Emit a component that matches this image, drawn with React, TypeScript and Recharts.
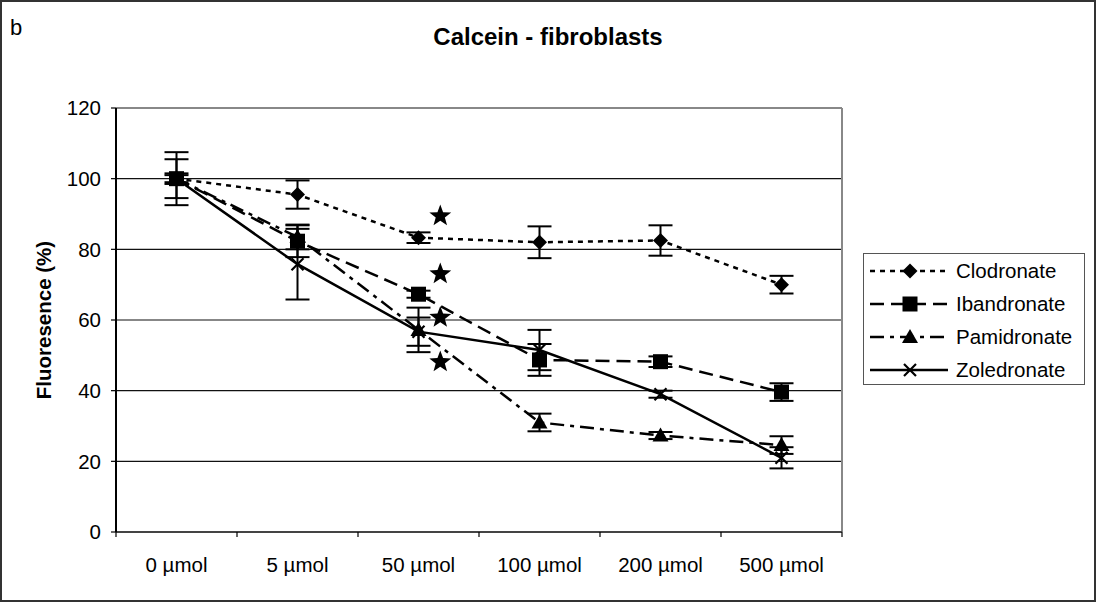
import React from 'react';
import {
  ComposedChart, Line, Scatter, XAxis, YAxis, CartesianGrid,
  ErrorBar, ReferenceLine, Legend,
} from 'recharts';

const doses = ['0 µmol', '5 µmol', '50 µmol', '100 µmol', '200 µmol', '500 µmol'];

const clodronate = [100, 95.5, 83.3, 82, 82.5, 70];
const clodronateErr = [7.5, 4, 1.5, 4.5, 4.3, 2.5];
const ibandronate = [100, 82.3, 67.3, 48.7, 48.2, 39.6];
const ibandronateErr = [5.5, 4.5, 1, 4.5, 1.5, 2.5];
const pamidronate = [100, 83.5, 57.2, 31, 27.3, 24.6];
const pamidronateErr = [1.5, 3.5, 6.3, 2.5, 1, 2.5];
const zoledronate = [100, 75.8, 56.7, 51.5, 39, 21];
const zoledronateErr = [1, 10, 4, 5.7, 1, 3];

// significance stars, placed just right of the 50 µmol column
const starX = [2.68, 2.68, 2.68, 2.68];
const starY = [89.7, 73.3, 61, 48.4];

const yTicks = [0, 20, 40, 60, 80, 100, 120];
const bandTicks = [0, 1, 2, 3, 4, 5, 6];

const data = doses.map((dose, i) => ({
  dose,
  clo: clodronate[i], cloErr: clodronateErr[i],
  iba: ibandronate[i], ibaErr: ibandronateErr[i],
  pam: pamidronate[i], pamErr: pamidronateErr[i],
  zol: zoledronate[i], zolErr: zoledronateErr[i],
}));

const stars = starX.map((x, i) => ({ x, y: starY[i] }));

const FONT = '"Liberation Sans", Arial, sans-serif';

type Kind = 'diamond' | 'square' | 'triangle' | 'cross';

const series: { key: string; name: string; dash?: string; kind: Kind }[] = [
  { key: 'clo', name: 'Clodronate', dash: '5 5', kind: 'diamond' },
  { key: 'iba', name: 'Ibandronate', dash: '14 7', kind: 'square' },
  { key: 'pam', name: 'Pamidronate', dash: '14 6 4 6', kind: 'triangle' },
  { key: 'zol', name: 'Zoledronate', kind: 'cross' },
];

function Marker({ kind, cx, cy }: { kind: Kind; cx: number; cy: number }) {
  if (cx == null || cy == null) return null;
  if (kind === 'diamond') {
    const r = 7.5;
    return <path d={`M${cx},${cy - r}L${cx + r},${cy}L${cx},${cy + r}L${cx - r},${cy}Z`} fill="#000" />;
  }
  if (kind === 'square') {
    return <rect x={cx - 7.5} y={cy - 7.5} width={15} height={15} fill="#000" />;
  }
  if (kind === 'triangle') {
    return <path d={`M${cx},${cy - 8}L${cx + 8},${cy + 6}L${cx - 8},${cy + 6}Z`} fill="#000" />;
  }
  return (
    <path
      d={`M${cx - 6},${cy - 6}L${cx + 6},${cy + 6}M${cx + 6},${cy - 6}L${cx - 6},${cy + 6}`}
      stroke="#000" strokeWidth={2.2} fill="none"
    />
  );
}

const makeDot = (kind: Kind) => (p: any) => (
  <Marker key={`${kind}-${p.index}`} kind={kind} cx={p.cx} cy={p.cy} />
);

function Star(p: any) {
  const { cx, cy } = p;
  const outer = 11.5, inner = 4.8;
  const pts = [];
  for (let i = 0; i < 10; i++) {
    const r = i % 2 === 0 ? outer : inner;
    const a = -Math.PI / 2 + (i * Math.PI) / 5;
    pts.push(`${cx + r * Math.cos(a)},${cy + 1 + r * Math.sin(a)}`);
  }
  return <polygon points={pts.join(' ')} fill="#000" />;
}

function LegendBox() {
  return (
    <div style={{ border: '1.5px solid #555', background: '#fff', width: 222, height: 132, boxSizing: 'border-box', fontFamily: FONT }}>
      {series.map((s) => (
        <div key={s.key} style={{ display: 'flex', alignItems: 'center', height: 33 }}>
          <svg width={92} height={20} style={{ display: 'block' }}>
            <line x1={6} y1={10} x2={84} y2={10} stroke="#000" strokeWidth={2.5} strokeDasharray={s.dash} />
            <Marker kind={s.kind} cx={46} cy={10} />
          </svg>
          <span style={{ fontSize: 20.5, color: '#000', lineHeight: '20px' }}>{s.name}</span>
        </div>
      ))}
    </div>
  );
}

export default function App() {
  return (
    <div style={{ position: 'relative', width: 1096, height: 602, background: '#fff' }}>
      <style>{'body{margin:0}'}</style>
      <ComposedChart
        width={1096}
        height={602}
        data={data}
        margin={{ top: 108, right: 30, bottom: 20, left: 10 }}
        style={{ fontFamily: FONT }}
      >
        <text x={10} y={35} fontSize={22} fill="#000" fontFamily={FONT}>b</text>
        <text x={548} y={45} fontSize={24} fontWeight="bold" textAnchor="middle" fill="#000" fontFamily={FONT}>
          Calcein - fibroblasts
        </text>
        <CartesianGrid vertical={false} stroke="#111" strokeWidth={1.2} />
        <XAxis
          xAxisId="band" type="number" dataKey="x" domain={[0, 6]} ticks={bandTicks}
          allowDataOverflow height={5} tickSize={5} tickFormatter={() => ''}
          axisLine={{ stroke: '#444', strokeWidth: 2 }} tickLine={{ stroke: '#000', strokeWidth: 1.2 }}
        />
        <XAxis
          xAxisId="dose" dataKey="dose" scale="band" height={45} axisLine={false} tickLine={false}
          tickSize={0} tickMargin={20} interval={0}
          tick={{ fill: '#000', fontSize: 20.5, fontFamily: FONT }}
        />
        <YAxis
          domain={[0, 120]} ticks={yTicks} width={106} tickSize={5} tickMargin={10}
          axisLine={{ stroke: '#000', strokeWidth: 2 }} tickLine={{ stroke: '#000', strokeWidth: 1.2 }}
          tick={{ fill: '#000', fontSize: 20.5, fontFamily: FONT }}
          label={{
            content: ({ viewBox }: any) => {
              const cx = viewBox.x + 33;
              const cy = viewBox.y + viewBox.height / 2;
              return (
                <text
                  x={cx} y={cy} transform={`rotate(-90 ${cx} ${cy})`} textAnchor="middle"
                  dominantBaseline="central" fontSize={20.5} fontWeight="bold" fill="#000" fontFamily={FONT}
                >
                  Fluoresence (%)
                </text>
              );
            },
          }}
        />
        <ReferenceLine y={120} stroke="#888" strokeWidth={2} />
        <ReferenceLine x={6} xAxisId="band" stroke="#888" strokeWidth={2} />
        <Legend layout="vertical" align="right" verticalAlign="top" content={() => <LegendBox />}
          wrapperStyle={{ left: 863, top: 253, width: 224 }} />
        {series.map((s) => (
          <Line
            key={s.key} xAxisId="dose" dataKey={s.key} name={s.name} stroke="#000" strokeWidth={2.5}
            strokeDasharray={s.dash} dot={makeDot(s.kind)} activeDot={false} isAnimationActive={false}
          >
            <ErrorBar dataKey={`${s.key}Err`} width={12} strokeWidth={2} stroke="#000" direction="y" />
          </Line>
        ))}
        <Scatter xAxisId="band" data={stars} dataKey="y" shape={Star} isAnimationActive={false} />
      </ComposedChart>
      <div style={{ position: 'absolute', inset: 0, border: '2px solid #333', pointerEvents: 'none' }} />
    </div>
  );
}
